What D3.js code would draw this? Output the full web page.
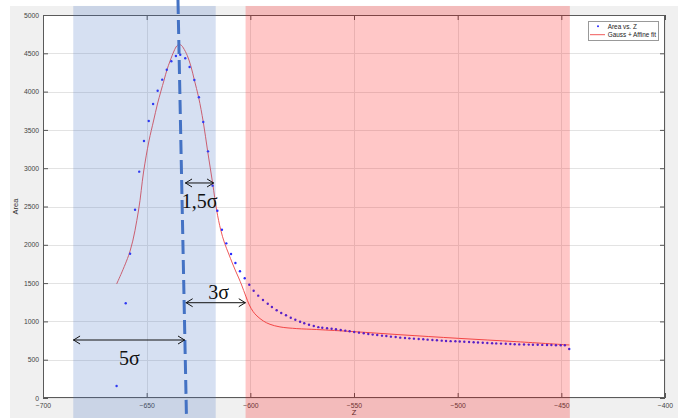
<!DOCTYPE html>
<html><head><meta charset="utf-8">
<script src="https://cdn.jsdelivr.net/npm/d3@7"></script>
<style>html,body{margin:0;padding:0;background:#fff}svg{display:block}</style>
</head><body>
<svg id="chart" width="678" height="418"></svg>
<script>
// ---- data ----
const areaVsZ = [
[-664.5,157],[-660.1,1236],[-658.0,1884],[-655.6,2458],[-653.6,2955],[-651.3,3355],[-649.0,3616],[-646.9,3838],
[-644.7,4012],[-642.5,4156],[-640.3,4286],[-638.1,4396],[-635.9,4465],[-633.8,4482],[-631.4,4435],[-629.3,4321],
[-627.0,4151],[-624.8,3926],[-622.7,3603],[-620.4,3220],[-618.2,2772],[-615.9,2445],[-613.7,2197],[-611.6,2019],
[-609.3,1880],[-607.2,1762],[-605.0,1655],[-602.7,1563],[-600.5,1479],[-598.4,1401],[-596.2,1336],[-593.9,1279],
[-591.6,1231],[-589.6,1188],[-587.3,1145],[-585.1,1110],[-582.8,1080],[-580.5,1048],[-578.3,1022],[-576.0,996],
[-574.0,975],[-571.7,957],[-569.4,940],[-567.2,925],[-565.3,918],[-563.0,911],[-560.8,904],[-558.7,897],
[-556.4,888],[-554.2,879],[-552.1,871],[-549.9,862],[-547.6,853],[-545.3,845],[-543.1,836],[-541.0,828],
[-538.8,822],[-536.5,814],[-534.4,809],[-532.2,801],[-529.9,796],[-527.7,788],[-525.4,783],[-523.3,779],
[-521.1,775],[-518.8,770],[-516.6,766],[-514.5,762],[-512.2,757],[-510.0,753],[-507.7,749],[-505.6,745],
[-503.4,742],[-501.1,740],[-499.0,737],[-496.8,734],[-494.5,731],[-492.3,727],[-490.2,725],[-487.9,721],
[-485.7,718],[-483.4,715],[-481.4,713],[-479.1,710],[-476.8,708],[-474.6,705],[-472.5,702],[-470.3,700],
[-468.0,698],[-465.7,697],[-463.7,696],[-461.4,695],[-459.2,693],[-456.9,692],[-454.8,691],[-452.6,689],
[-450.3,688],[-448.3,688],[-446.2,640]
];
const gaussAffineFit = [
[-664.5,1488],[-658.0,1919],[-653.9,2454],[-651.5,2950],[-648.9,3355],[-646.7,3616],[-644.8,3838],[-643.1,4008],
[-641.6,4151],[-640.2,4286],[-638.7,4400],[-636.8,4530],[-635.5,4595],[-634.4,4615],[-633.3,4605],[-632.3,4570],
[-630.4,4470],[-628.6,4325],[-627.0,4151],[-624.9,3920],[-622.7,3603],[-620.6,3225],[-618.2,2807],[-616.2,2445],
[-614.3,2197],[-612.4,2020],[-610.4,1880],[-608.7,1762],[-607.1,1658],[-605.6,1567],[-604.2,1475],[-602.2,1330],
[-600.5,1215],[-598.7,1130],[-596.8,1071],[-593.7,1005],[-590.5,962],[-585.7,928],[-577.6,906],[-568.0,894],
[-549.9,866],[-527.8,826],[-499.7,779],[-471.5,735],[-446.1,692]
];
const xTicks = [-700,-650,-600,-550,-500,-450,-400];
const yTicks = [0,500,1000,1500,2000,2500,3000,3500,4000,4500,5000];
const legendLabels = ["Area vs. Z","Gauss + Affine fit"];
const xLabel = "Z";
const yLabel = "Area";
// annotation regions / markers (data units)
const blueBand = [-685.4,-616.7];
const redBand = [-602.3,-445.9];
const bandArea = [5118,-261];
const centerLine = [[-634.9,5196],[-630.8,-261]];
const arrowSpans = [
  {from:-631.5,to:-617.5,at:2807,label:"1,5σ",lz:-633.1,la:2484},
  {from:-631.2,to:-602.2,at:1244,label:"3σ",lz:-620.3,la:1289},
  {from:-685.5,to:-631.5,at:757,label:"5σ",lz:-663.3,la:431}
];

// ---- drawing ----
const svg = d3.select("#chart");
const L=43,R=665,T=15,B=398;
const x = d3.scaleLinear().domain([-700,-400]).range([L,R]);
const y = d3.scaleLinear().domain([0,5000]).range([B,T]);

// figure background
svg.append("rect").attr("x",10).attr("y",6).attr("width",668).attr("height",412).attr("fill","#f0f0f0");
svg.append("rect").attr("x",L).attr("y",T).attr("width",R-L).attr("height",B-T).attr("fill","#fff");

// grid
const grid = svg.append("g").attr("stroke","#e3e3e3").attr("stroke-width",1);
grid.selectAll(".gx").data(xTicks).join("line")
  .attr("x1",d=>Math.round(x(d))+0.5).attr("x2",d=>Math.round(x(d))+0.5).attr("y1",T).attr("y2",B);
grid.selectAll(".gy").data(yTicks).join("line")
  .attr("y1",d=>Math.round(y(d))+0.5).attr("y2",d=>Math.round(y(d))+0.5).attr("x1",L).attr("x2",R);

// fit line
svg.append("path").datum(gaussAffineFit)
  .attr("fill","none").attr("stroke","#f05a5a").attr("stroke-width",1)
  .attr("d",d3.line().x(d=>x(d[0])).y(d=>y(d[1])).curve(d3.curveCatmullRom.alpha(0.5)));

// data points
svg.append("g").selectAll("circle").data(areaVsZ).join("circle")
  .attr("cx",d=>x(d[0])).attr("cy",d=>y(d[1])).attr("r",1.2).attr("fill","#2a2aff");

// axes
const axFont = "Liberation Sans, Arial, sans-serif";
function styleAxis(g){
  g.select(".domain").remove();
  g.selectAll("line").attr("stroke","#555");
  g.selectAll("text").attr("fill","#444").style("font-family",axFont).style("font-size","6.8px");
}
svg.append("g").attr("transform",`translate(0,${B})`)
  .call(d3.axisBottom(x).tickValues(xTicks).tickSizeInner(-5).tickSizeOuter(0).tickPadding(5).tickFormat(d3.format("d")))
  .call(styleAxis);
svg.append("g").attr("transform",`translate(${L},0)`)
  .call(d3.axisLeft(y).tickValues(yTicks).tickSizeInner(-5).tickSizeOuter(0).tickPadding(4).tickFormat(d3.format("d")))
  .call(styleAxis);
svg.append("g").attr("transform",`translate(0,${T})`)
  .call(d3.axisTop(x).tickValues(xTicks).tickSizeInner(-5).tickSizeOuter(0).tickFormat(""))
  .call(styleAxis);
svg.append("g").attr("transform",`translate(${R},0)`)
  .call(d3.axisRight(y).tickValues(yTicks).tickSizeInner(-5).tickSizeOuter(0).tickFormat(""))
  .call(styleAxis);
svg.append("rect").attr("x",L+0.5).attr("y",T+0.5).attr("width",R-L-1).attr("height",B-T-1)
  .attr("fill","none").attr("stroke","#5a5a5a").attr("stroke-width",1);

// axis labels
svg.append("text").attr("x",(L+R)/2).attr("y",415).attr("text-anchor","middle")
  .style("font-family",axFont).style("font-size","7.5px").attr("fill","#333").text(xLabel);
svg.append("text").attr("transform",`translate(18,${(T+B)/2}) rotate(-90)`).attr("text-anchor","middle")
  .style("font-family",axFont).style("font-size","7.5px").attr("fill","#333").text(yLabel);

// legend
const lg = svg.append("g");
lg.append("rect").attr("x",588.5).attr("y",21.5).attr("width",70).attr("height",19)
  .attr("fill","#fff").attr("stroke","#999").attr("stroke-width",1);
lg.append("circle").attr("cx",598).attr("cy",26.3).attr("r",1).attr("fill","#2a2aff");
lg.append("line").attr("x1",590).attr("x2",605).attr("y1",34.7).attr("y2",34.7).attr("stroke","#f05a5a").attr("stroke-width",1);
lg.selectAll("text").data(legendLabels).join("text")
  .attr("x",607.7).attr("y",(d,i)=>28.6+i*8.4)
  .style("font-family",axFont).style("font-size","6.4px").attr("fill","#222").text(d=>d);

// shaded bands (on top, translucent)
svg.append("rect").attr("x",x(blueBand[0])).attr("width",x(blueBand[1])-x(blueBand[0]))
  .attr("y",y(bandArea[0])).attr("height",y(bandArea[1])-y(bandArea[0]))
  .attr("fill","rgb(68,114,196)").attr("fill-opacity",0.22);
svg.append("rect").attr("x",x(redBand[0])).attr("width",x(redBand[1])-x(redBand[0]))
  .attr("y",y(bandArea[0])).attr("height",y(bandArea[1])-y(bandArea[0]))
  .attr("fill","rgb(255,0,0)").attr("fill-opacity",0.22);

// dashed centre line
svg.append("line")
  .attr("x1",x(centerLine[0][0])).attr("y1",y(centerLine[0][1]))
  .attr("x2",x(centerLine[1][0])).attr("y2",y(centerLine[1][1]))
  .attr("stroke","#4472c4").attr("stroke-width",3).attr("stroke-dasharray","14,6");

// double arrows + labels
const ag = svg.append("g");
arrowSpans.forEach(a=>{
  const x1=x(a.from), x2=x(a.to), yy=y(a.at);
  ag.append("line").attr("x1",x1).attr("x2",x2).attr("y1",yy).attr("y2",yy).attr("stroke","#111").attr("stroke-width",1);
  ag.append("path").attr("d",`M${x1+7},${yy-4} L${x1+0.5},${yy} L${x1+7},${yy+4}`).attr("fill","none").attr("stroke","#111").attr("stroke-width",1);
  ag.append("path").attr("d",`M${x2-7},${yy-4} L${x2-0.5},${yy} L${x2-7},${yy+4}`).attr("fill","none").attr("stroke","#111").attr("stroke-width",1);
  ag.append("text").attr("x",x(a.lz)).attr("y",y(a.la))
    .style("font-family","Liberation Serif, 'DejaVu Serif', serif").style("font-size","20px").attr("fill","#111").text(a.label);
});
</script>
</body></html>
